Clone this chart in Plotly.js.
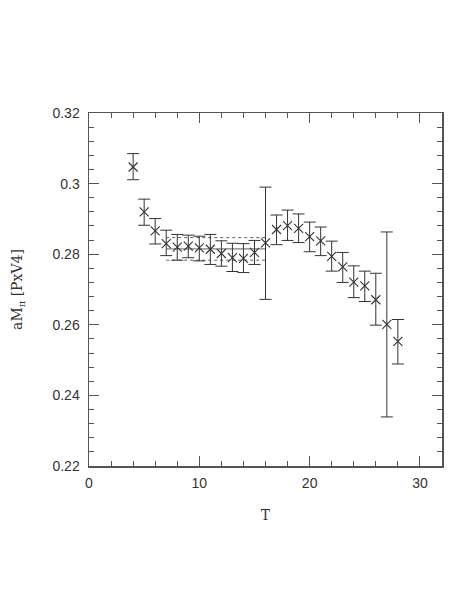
<!DOCTYPE html>
<html>
<head>
<meta charset="utf-8">
<script src="https://cdn.plot.ly/plotly-3.0.1.min.js"></script>
<style>
  html, body { margin: 0; padding: 0; background: #fff; }
  #chart { width: 460px; height: 595px; }
</style>
</head>
<body>
<div id="chart"></div>
<script>
// effective mass plateau data
const timeslices = [4, 5, 6, 7, 8, 9, 10, 11, 12, 13, 14, 15, 16, 17, 18, 19, 20, 21, 22, 23, 24, 25, 26, 27, 28];
const massValues = [0.3047, 0.2920, 0.2866, 0.2830, 0.2820, 0.2823, 0.2818, 0.2814, 0.2802, 0.2790, 0.2788, 0.2805, 0.2832,
                    0.2870, 0.2881, 0.2873, 0.2850, 0.2838, 0.2794, 0.2764, 0.2721, 0.2710, 0.2671, 0.2601, 0.2553];
const errPlus  = [0.0038, 0.0036, 0.0035, 0.0038, 0.0036, 0.0031, 0.0033, 0.0042, 0.0036, 0.0041, 0.0042, 0.0034, 0.0158,
                  0.0041, 0.0044, 0.0041, 0.0041, 0.0039, 0.0043, 0.0041, 0.0046, 0.0042, 0.0075, 0.0262, 0.0062];
const errMinus = [0.0036, 0.0038, 0.0037, 0.0034, 0.0037, 0.0033, 0.0037, 0.0043, 0.0036, 0.0039, 0.0040, 0.0034, 0.0160,
                  0.0043, 0.0042, 0.0040, 0.0043, 0.0042, 0.0042, 0.0044, 0.0044, 0.0044, 0.0072, 0.0262, 0.0064];

// fit range and fitted mass band
const fitRange = [7, 16];
const fitCentral = 0.2815;
const fitUpper = 0.2847;
const fitLower = 0.2783;

const axisColor = '#555';
const inkColor = '#333';

const traces = [
    {
        x: fitRange, y: [fitUpper, fitUpper], type: 'scatter', mode: 'lines',
        line: { color: inkColor, width: 0.8, dash: 'dot' }, hoverinfo: 'skip'
    },
    {
        x: fitRange, y: [fitCentral, fitCentral], type: 'scatter', mode: 'lines',
        line: { color: inkColor, width: 0.8 }, hoverinfo: 'skip'
    },
    {
        x: fitRange, y: [fitLower, fitLower], type: 'scatter', mode: 'lines',
        line: { color: inkColor, width: 0.8, dash: 'dot' }, hoverinfo: 'skip'
    },
    {
        x: timeslices, y: massValues, type: 'scatter', mode: 'markers',
        marker: { symbol: 'x-thin', size: 9, color: inkColor, line: { color: inkColor, width: 1.1 } },
        error_y: {
            type: 'data', symmetric: false, array: errPlus, arrayminus: errMinus,
            color: inkColor, thickness: 1, width: 6
        }
    }
];

const tickFont = { family: 'Liberation Sans, Arial, sans-serif', size: 14, color: '#333' };
const titleFont = { family: 'DejaVu Serif, serif', size: 14, color: '#333' };

const layout = {
    width: 460, height: 595,
    paper_bgcolor: '#fff', plot_bgcolor: '#fff',
    showlegend: false,
    margin: { l: 89, r: 18, t: 113, b: 129 },
    xaxis: {
        range: [0, 32], dtick: 10, tick0: 0,
        showgrid: false, zeroline: false,
        showline: true, linecolor: axisColor, linewidth: 1.5, mirror: 'allticks',
        ticks: 'inside', ticklen: 10, tickwidth: 1, tickcolor: axisColor,
        minor: { dtick: 2, ticks: 'inside', ticklen: 5, tickwidth: 1, tickcolor: axisColor, showgrid: false },
        tickfont: tickFont, ticklabelstandoff: 4,
        title: { text: 'T', font: titleFont, standoff: 20 }
    },
    yaxis: {
        range: [0.22, 0.32], dtick: 0.02, tick0: 0.22,
        showgrid: false, zeroline: false,
        showline: true, linecolor: axisColor, linewidth: 1.5, mirror: 'allticks',
        ticks: 'inside', ticklen: 10, tickwidth: 1, tickcolor: axisColor,
        minor: { dtick: 0.004, ticks: 'inside', ticklen: 5, tickwidth: 1, tickcolor: axisColor, showgrid: false },
        tickfont: tickFont, ticklabelstandoff: 5,
        title: { text: 'aM<sub>π</sub> [PxV4]', font: titleFont, standoff: 26 }
    }
};

Plotly.newPlot('chart', traces, layout, { displayModeBar: false, staticPlot: true });
</script>
</body>
</html>
